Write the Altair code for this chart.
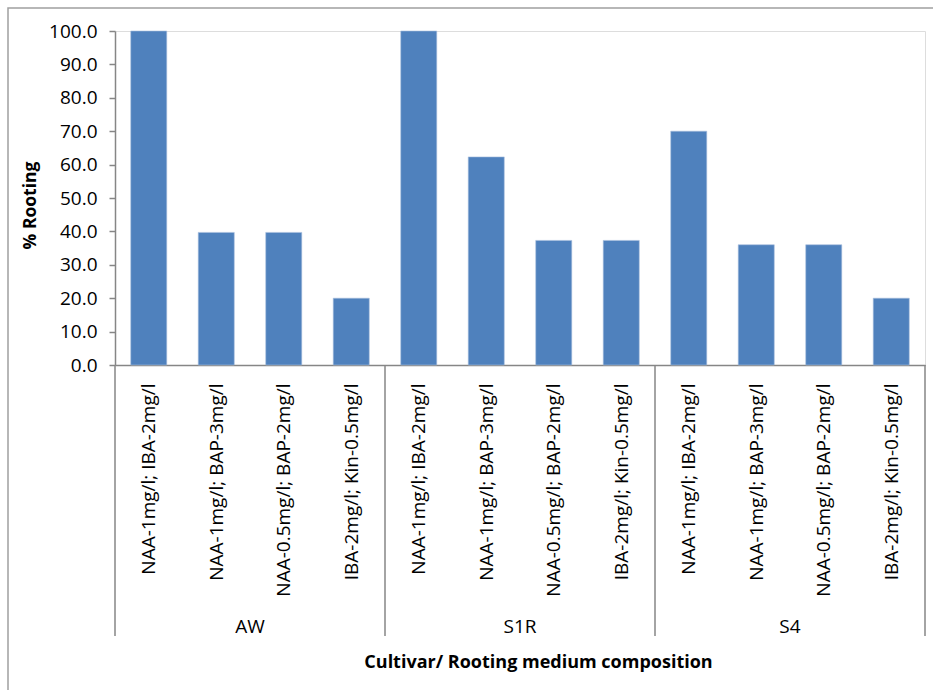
import altair as alt
import pandas as pd

# ---- data ----
cultivars = ["AW", "S1R", "S4"]
media = [
    "NAA-1mg/l; IBA-2mg/l",
    "NAA-1mg/l; BAP-3mg/l",
    "NAA-0.5mg/l; BAP-2mg/l",
    "IBA-2mg/l; Kin-0.5mg/l",
]
rooting_aw = [100.0, 39.7, 39.7, 20.0]
rooting_s1r = [100.0, 62.3, 37.3, 37.3]
rooting_s4 = [70.0, 36.0, 36.0, 20.0]

series = [rooting_aw, rooting_s1r, rooting_s4]
rows = []
i = 0
for g, vals in zip(cultivars, series):
    for m, v in zip(media, vals):
        rows.append({"i": i, "cultivar": g, "medium": m, "rooting": v})
        i += 1
df = pd.DataFrame(rows)

n = len(df)
grp = df.groupby("cultivar", sort=False)["i"].agg(["min", "max"]).reset_index()
grp["center"] = (grp["min"] + grp["max"]) / 2.0
edges = pd.DataFrame({"edge": [e - 0.5 for e in grp["min"]] + [grp["max"].iloc[-1] + 0.5]})

label_list = "[" + ",".join("'" + s + "'" for s in df["medium"]) + "]"

FONT = "Open Sans"
GREY = "#868686"
BAR = "#4F81BD"

xscale = alt.Scale(domain=[-0.5, n - 0.5], nice=False, zero=False)
yscale = alt.Scale(domain=[0, 100], nice=False, padding=0)

half = 0.267

bars = alt.Chart(df).transform_calculate(
    x0=f"datum.i - {half}", x1=f"datum.i + {half}"
).mark_bar(color=BAR, stroke="#A9C0DE", strokeWidth=0.6).encode(
    x=alt.X(
        "x0:Q",
        scale=xscale,
        axis=alt.Axis(
            values=list(range(n)),
            labelExpr=f"{label_list}[datum.value]",
            labelAngle=-90,
            labelAlign="right",
            labelBaseline="middle",
            labelFont=FONT,
            labelFontSize=19,
            labelColor="#000000",
            labelPadding=18,
            labelLimit=0,
            labelOverlap=False,
            labelBound=False,
            labelFlush=False,
            ticks=False,
            tickSize=0,
            grid=False,
            domainColor=GREY,
            domainWidth=1.5,
            title="Cultivar/ Rooting medium composition",
            titleFont=FONT,
            titleFontSize=18,
            titleFontWeight="bold",
            titleColor="#000000",
            titleX=423,
            titleY=297,
            titleAlign="center",
            titleBaseline="middle",
        ),
    ),
    x2="x1:Q",
    y=alt.Y(
        "rooting:Q",
        scale=yscale,
        axis=alt.Axis(
            values=list(range(0, 101, 10)),
            format=".1f",
            labelFont=FONT,
            labelFontSize=19,
            labelColor="#000000",
            labelPadding=12,
            tickSize=6,
            tickColor=GREY,
            tickWidth=1.5,
            domainColor=GREY,
            domainWidth=1.5,
            grid=False,
            title="% Rooting",
            titleFont=FONT,
            titleFontSize=17.5,
            titleFontWeight="bold",
            titleColor="#000000",
            titleX=-85,
            titleY=174,
            titleAlign="center",
            titleBaseline="middle",
            titleAngle=-90,
        ),
    ),
    y2=alt.datum(0),
)

seps = alt.Chart(edges).mark_rule(color=GREY, strokeWidth=1.5).encode(
    x=alt.X("edge:Q", scale=xscale),
    y=alt.value(334),
    y2=alt.value(605),
)

glabels = alt.Chart(grp).mark_text(
    font=FONT, fontSize=19, color="#000000", align="center", baseline="middle"
).encode(
    x=alt.X("center:Q", scale=xscale),
    y=alt.value(596),
    text="cultivar:N",
)

border = alt.Chart(pd.DataFrame({"k": [0]})).mark_rect(
    fill=None, stroke="#A0A0A0", strokeWidth=1.5
).encode(
    x=alt.value(-107),
    x2=alt.value(900),
    y=alt.value(-23),
    y2=alt.value(700),
)

chart = alt.layer(border, bars, seps, glabels).properties(
    width=810,
    height=334,
    padding={"left": 115, "top": 31, "right": 8, "bottom": 325},
    autosize=alt.AutoSizeParams(type="none"),
).configure_view(stroke=None).configure(background="#ffffff")

chart.save("out.html", embed_options={"renderer": "svg", "actions": False})
